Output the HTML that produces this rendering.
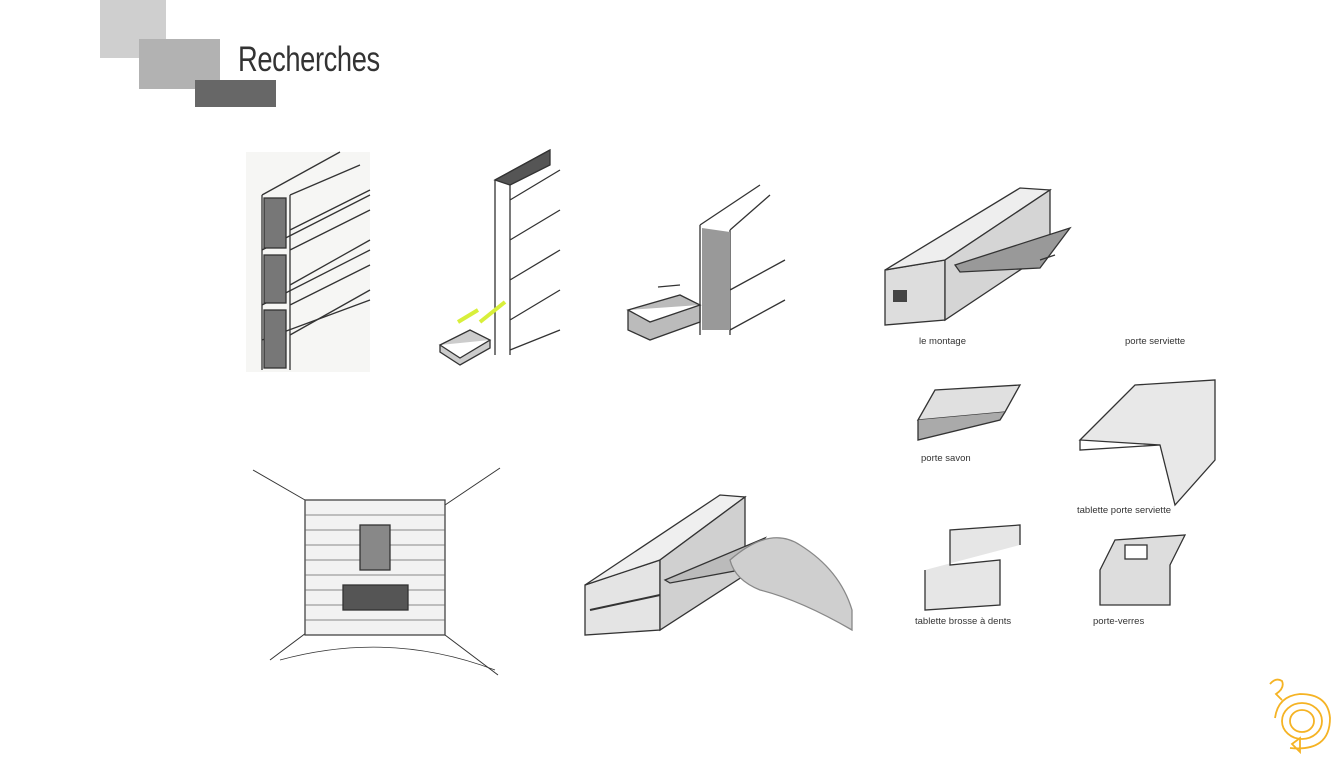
<!DOCTYPE html>
<html><head><meta charset="utf-8"><style>
html,body{margin:0;padding:0;background:#fff;}
body{width:1336px;height:758px;position:relative;overflow:hidden;font-family:"Liberation Sans",sans-serif;}
.r{position:absolute;}
.t{position:absolute;font-size:9.5px;color:#333;white-space:nowrap;}
svg{position:absolute;left:0;top:0;}
</style></head><body>
<div class="r" style="left:100px;top:0;width:66px;height:58px;background:#cfcfcf"></div>
<div class="r" style="left:139px;top:39px;width:81px;height:50px;background:#b2b2b2"></div>
<div class="r" style="left:195px;top:80px;width:81px;height:27px;background:#676767"></div>
<div class="r" style="left:238px;top:40px;font-size:35px;color:#333;transform:scaleX(0.78);transform-origin:left top;letter-spacing:-0.5px">Recherches</div>

<svg width="1336" height="758" stroke="#333" fill="none" stroke-width="1.3">
<!-- sketch 1 -->
<rect x="246" y="152" width="124" height="220" fill="#f6f6f4" stroke="none"/>
<g>
<path d="M262 195 L262 370 M262 195 L340 152 M262 250 L370 195 M262 305 L370 250 M262 340 L370 300"/>
<path d="M290 195 L290 370 M290 250 L370 210 M290 305 L370 265"/>
<rect x="264" y="198" width="22" height="50" fill="#777"/>
<rect x="264" y="255" width="22" height="48" fill="#777"/>
<rect x="264" y="310" width="22" height="58" fill="#777"/>
<path d="M290 195 L360 165 M290 230 L370 190 M290 285 L370 240 M290 335 L370 290"/>
</g>
<!-- sketch 2 -->
<path d="M495 180 L495 355 M510 180 L510 355 M495 180 L550 150 M510 200 L560 170 M510 240 L560 210 M510 280 L560 250 M510 320 L560 290 M510 350 L560 330"/>
<path d="M495 180 L550 150 L550 165 L510 185 Z" fill="#555"/>
<path d="M440 345 L470 330 L490 340 L460 358 Z M440 345 L440 352 L460 365 L490 348 L490 340" fill="#ccc"/>
<path d="M458 322 L478 310 M480 322 L505 302" stroke="#d8ef3a" stroke-width="4"/>
<!-- sketch 3 -->
<path d="M700 225 L700 335 M730 230 L730 335 M700 225 L760 185 M730 230 L770 195 M730 290 L785 260 M730 330 L785 300"/>
<path d="M702 228 L730 232 L730 330 L702 330 Z" fill="#999" stroke="none"/>
<path d="M628 310 L680 295 L700 305 L650 322 Z M628 310 L628 330 L650 340 L700 322 L700 305" fill="#bbb"/>
<path d="M658 287 L680 285"/>
<!-- sketch 4 (top right) -->
<path d="M885 270 L885 325 L945 320 L945 260 Z" fill="#ddd"/>
<path d="M885 270 L1020 188 L1050 190 L945 260 Z" fill="#eee"/>
<path d="M945 260 L945 320 L1050 250 L1050 190 Z" fill="#d5d5d5"/>
<path d="M955 265 L1070 228 L1040 268 L960 272 Z" fill="#999"/>
<rect x="893" y="290" width="14" height="12" fill="#444" stroke="none"/>
<path d="M1040 260 L1055 255" />
<!-- porte savon -->
<path d="M918 420 L935 390 L1020 385 L1005 412 Z" fill="#e0e0e0"/>
<path d="M918 420 L918 440 L1000 420 L1005 412" fill="#aaa"/>
<!-- tablette porte serviette -->
<path d="M1080 440 L1135 385 L1215 380 L1215 460 L1175 505 L1160 445 Z" fill="#e8e8e8"/>
<path d="M1080 440 L1080 450 L1160 445" />
<!-- brosse -->
<path d="M925 570 L925 610 L1000 605 L1000 560 L950 565 L950 530 L1020 525 L1020 545" fill="#e6e6e6"/>
<!-- porte-verres -->
<path d="M1100 570 L1100 605 L1170 605 L1170 565 L1185 535 L1115 540 Z" fill="#ddd"/>
<rect x="1125" y="545" width="22" height="14" fill="#fff"/>
<!-- room sketch -->
<path d="M253 470 L305 500 M500 468 L445 505 M270 660 L310 630 M498 675 L445 635 M305 500 L445 505" stroke-width="1"/>
<rect x="305" y="500" width="140" height="135" fill="#f2f2f2" stroke="#444"/>
<g stroke="#666" stroke-width="0.8">
<path d="M305 515 H445 M305 530 H445 M305 545 H445 M305 560 H445 M305 575 H445 M305 590 H445 M305 605 H445 M305 620 H445"/>
</g>
<rect x="360" y="525" width="30" height="45" fill="#888"/>
<rect x="343" y="585" width="65" height="25" fill="#555"/>
<path d="M280 660 Q390 630 495 670" stroke-width="0.8"/>
<!-- hand sketch -->
<path d="M585 585 L585 635 L660 630 L660 560 Z" fill="#e4e4e4"/>
<path d="M585 585 L720 495 L745 497 L660 560 Z" fill="#efefef"/>
<path d="M660 560 L660 630 L745 575 L745 497 Z" fill="#d0d0d0"/>
<path d="M665 580 L765 538 L740 570 L670 583 Z" fill="#bbb"/>
<path d="M590 610 L660 595" stroke-width="2"/>
<path d="M730 560 Q770 525 800 545 Q840 570 852 610 L852 630 Q800 600 760 590 Q735 580 730 560 Z" fill="#cfcfcf" stroke="#888"/>
<!-- logo -->
<g stroke="#f5b324" stroke-width="1.8">
<path d="M1270 684 Q1276 677 1282 681 Q1285 688 1276 694 L1282 700"/>
<ellipse cx="1302" cy="721" rx="12" ry="11"/>
<ellipse cx="1302" cy="721" rx="20" ry="18"/>
<path d="M1290 748 Q1330 752 1330 718 Q1328 694 1300 694 Q1278 696 1275 718"/>
<path d="M1292 744 L1300 738 L1300 752 Z"/>
</g>
</svg>
<div class="t" style="left:919px;top:336px">le montage</div>
<div class="t" style="left:1125px;top:336px">porte serviette</div>
<div class="t" style="left:921px;top:453px">porte savon</div>
<div class="t" style="left:1077px;top:505px">tablette porte serviette</div>
<div class="t" style="left:915px;top:616px">tablette brosse à dents</div>
<div class="t" style="left:1093px;top:616px">porte-verres</div>
</body></html>
